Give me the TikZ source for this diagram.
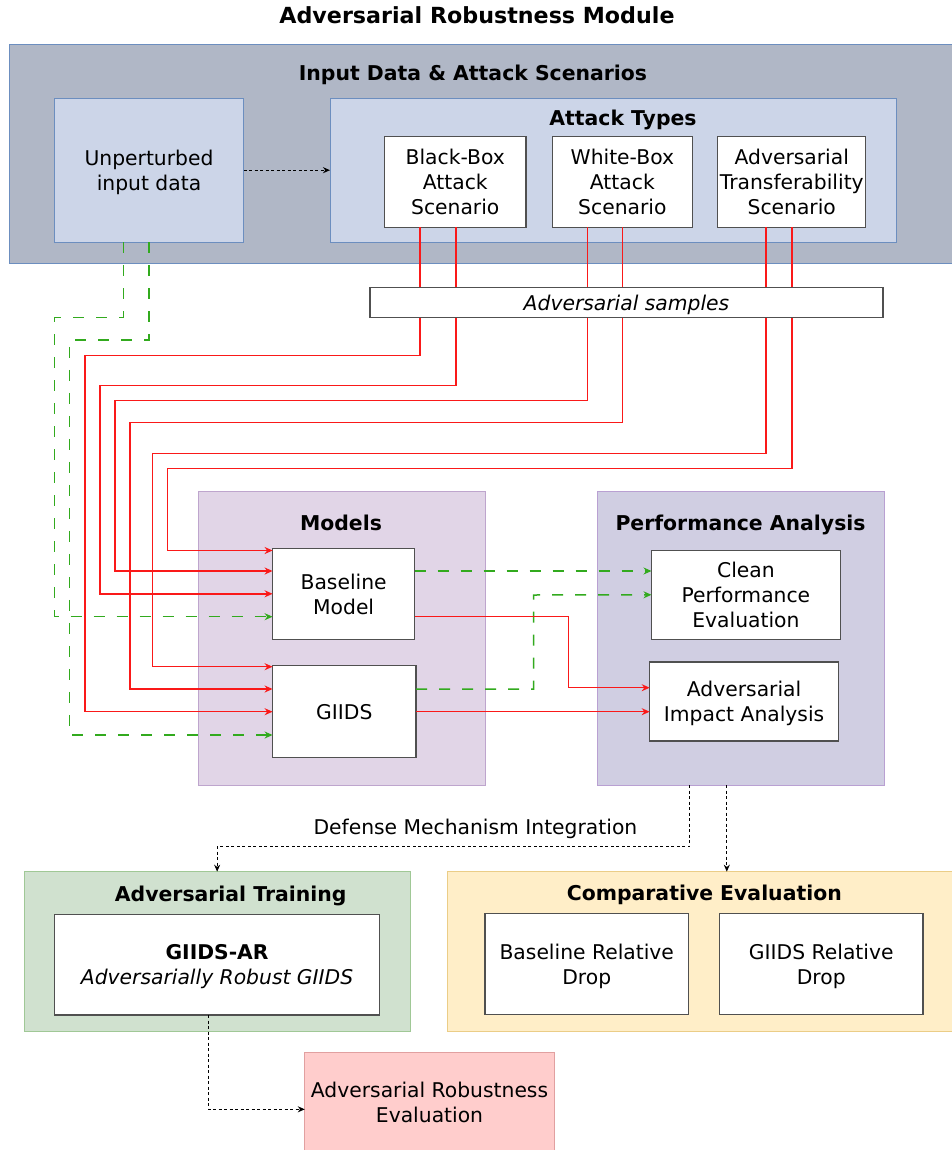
\documentclass[tikz,border=0pt]{standalone}
\usepackage{fontspec}
\setmainfont{DejaVu Sans}
\usetikzlibrary{calc,arrows.meta}

\definecolor{grayfill}{RGB}{176,183,198}
\definecolor{blueedge}{RGB}{108,142,191}
\definecolor{bluefill}{RGB}{204,213,232}
\definecolor{modfill}{RGB}{225,213,231}
\definecolor{modedge}{RGB}{190,165,205}
\definecolor{perffill}{RGB}{208,206,226}
\definecolor{perfedge}{RGB}{185,160,210}
\definecolor{trainfill}{RGB}{208,225,207}
\definecolor{trainedge}{RGB}{160,200,150}
\definecolor{compfill}{RGB}{255,238,200}
\definecolor{compedge}{RGB}{235,205,135}
\definecolor{arefill}{RGB}{255,205,204}
\definecolor{areedge}{RGB}{225,160,160}
\definecolor{linkred}{RGB}{250,25,25}
\definecolor{linkgreen}{RGB}{50,170,30}
\definecolor{boxedge}{RGB}{80,80,80}

\newcommand\bodyfont{\fontsize{20.3}{25}\selectfont}
\newcommand\headfont{\bfseries\fontsize{20.4}{25}\selectfont}

\tikzset{
  area/.style={draw, line width=1pt, inner sep=0pt, outer sep=0pt},
  plainbox/.style={draw=boxedge, fill=white, line width=1.2pt, inner sep=0pt,
    outer sep=0pt, align=center, font=\bodyfont, text depth=0pt},
  heading/.style={font=\headfont, inner sep=0pt, text depth=0pt},
  label/.style={font=\bodyfont, inner sep=0pt, align=center, text depth=0pt},
  redlink/.style={draw=linkred, line width=1.5pt,
    -{Stealth[length=8pt,width=7pt]}},
  greenlink/.style={draw=linkgreen, line width=1.5pt,
    dash pattern=on 11pt off 12pt, -{Stealth[length=8pt,width=7pt]}},
  dotlink/.style={draw=black, line width=1.2pt,
    dash pattern=on 3pt off 2.5pt, -{Stealth[length=7pt,width=6pt]}}
}

\begin{document}
\begin{tikzpicture}[x=1pt,y=-1pt]
\useasboundingbox (0,0) rectangle (952,1150);
\clip (0,0) rectangle (952,1150);

% page title
\node[heading, font=\bfseries\fontsize{22.2}{26}\selectfont] (title) at (477,15) {Adversarial Robustness Module};

% input data and attack scenarios
\node[area, fill=grayfill, draw=blueedge, minimum width=951, minimum height=219] (inputgroup) at (484.5,154) {};
\node[heading] (inputtitle) at (473,72.5) {Input Data \& Attack Scenarios};
\node[area, fill=bluefill, draw=blueedge, minimum width=189, minimum height=143.7, font=\bodyfont, align=center, text depth=0pt] (unpert) at (149,170.2) {Unperturbed\\input data};
\node[area, fill=bluefill, draw=blueedge, minimum width=566.5, minimum height=143.7] (attacktypes) at (613.25,170.2) {};
\node[heading] (attacktitle) at (623,118) {Attack Types};
\node[plainbox, minimum width=141.5, minimum height=91] (blackbox) at (455.25,181.8) {Black-Box\\Attack\\Scenario};
\node[plainbox, minimum width=139.7, minimum height=91] (whitebox) at (622.35,181.8) {White-Box\\Attack\\Scenario};
\node[plainbox, minimum width=148.1, minimum height=91] (transfer) at (791.75,181.8) {Adversarial\\Transferability\\Scenario};

\draw[dotlink] (unpert.east) -- (attacktypes.west);

% model and analysis groups
\node[area, fill=modfill, draw=modedge, minimum width=287, minimum height=293.3] (models) at (341.5,638.35) {};
\node[heading] (modelstitle) at (341,523) {Models};
\node[area, fill=perffill, draw=perfedge, minimum width=287.1, minimum height=293.3] (perf) at (741.05,638.35) {};
\node[heading] (perftitle) at (740.5,523) {Performance Analysis};

\node[plainbox, minimum width=142.1, minimum height=91] (baseline) at (343.65,593.8) {Baseline\\Model};
\node[plainbox, minimum width=143.4, minimum height=92] (giids) at (344.3,711.7) {GIIDS};
\node[plainbox, minimum width=188.8, minimum height=89] (clean) at (745.9,594.8) {Clean\\Performance\\Evaluation};
\node[plainbox, minimum width=188.8, minimum height=79] (advimpact) at (744.1,701.5) {Adversarial\\Impact Analysis};

% adversarial samples routed from each attack scenario
\draw[redlink] ($(blackbox.south)+(-35.25,0)$) |- (85,355.3) |- (giids.west);
\draw[redlink] ($(blackbox.south)+(0.75,0)$) |- (100,385.3) |- (baseline.west);
\draw[redlink] ($(whitebox.south)+(-34.85,0)$) |- (115,400.7) |- ($(baseline.west)+(0,-22.8)$);
\draw[redlink] ($(whitebox.south)+(0.15,0)$) |- (130,422.7) |- ($(giids.west)+(0,-22.7)$);
\draw[redlink] ($(transfer.south)+(-25.75,0)$) |- (152.7,453.3) |- ($(giids.west)+(0,-45)$);
\draw[redlink] ($(transfer.south)+(0.25,0)$) |- (167.7,468.7) |- ($(baseline.west)+(0,-43.3)$);

\node[plainbox, minimum width=513, minimum height=30, font=\itshape\bodyfont] (samples) at (626.5,302.5) {Adversarial samples};

% clean input routed to the models
\draw[greenlink] ($(unpert.south)+(-25.7,0)$) |- (54.3,317.7) |- ($(baseline.west)+(0,22.9)$);
\draw[greenlink] (unpert.south) |- (69.7,340) |- ($(giids.west)+(0,23.3)$);

% model outputs to the analysis
\draw[greenlink] ($(baseline.east)+(0,-22.8)$) -- ($(clean.west)+(0,-23.8)$);
\draw[greenlink] ($(giids.east)+(0,-22.7)$) -| (533.7,595) -- (clean.west);
\draw[redlink] ($(baseline.east)+(0,22.9)$) -| (568.3,687.7) -- ($(advimpact.west)+(0,-13.8)$);
\draw[redlink] (giids.east) -- ($(advimpact.west)+(0,10.2)$);

% defence and comparison
\node[area, fill=trainfill, draw=trainedge, minimum width=385.7, minimum height=160] (advtrain) at (217.15,951.7) {};
\node[heading] (traintitle) at (230.7,894) {Adversarial Training};
\node[plainbox, minimum width=324.9, minimum height=100.3] (giidsar) at (217.05,964.85) {\textbf{GIIDS-AR}\\\textit{Adversarially Robust GIIDS}};

\node[area, fill=compfill, draw=compedge, minimum width=512.5, minimum height=159.3] (compeval) at (703.75,951.35) {};
\node[heading] (comptitle) at (704.3,892.7) {Comparative Evaluation};
\node[plainbox, minimum width=203.5, minimum height=101] (baserel) at (586.75,963.8) {Baseline Relative\\Drop};
\node[plainbox, minimum width=203.5, minimum height=101] (giidsrel) at (821.25,963.8) {GIIDS Relative\\Drop};

\node[area, fill=arefill, draw=areedge, minimum width=249.5, minimum height=107.3] (are) at (429.55,1106.35) {};
\node[label] (aretext) at (429.5,1102.5) {Adversarial Robustness\\Evaluation};

\draw[dotlink] ($(perf.south)+(-51.55,0)$) |- ($(advtrain.north)+(0,-25)$) -- (advtrain.north);
\node[label] (defense) at (475.4,826.7) {Defense Mechanism Integration};
\draw[dotlink] ($(perf.south)+(-14.25,0)$) -- ($(compeval.north)+(23.05,0)$);
\draw[dotlink] ($(giidsar.south)+(-8.75,0)$) |- ($(are.west)+(0,2.95)$);
\end{tikzpicture}
\end{document}
